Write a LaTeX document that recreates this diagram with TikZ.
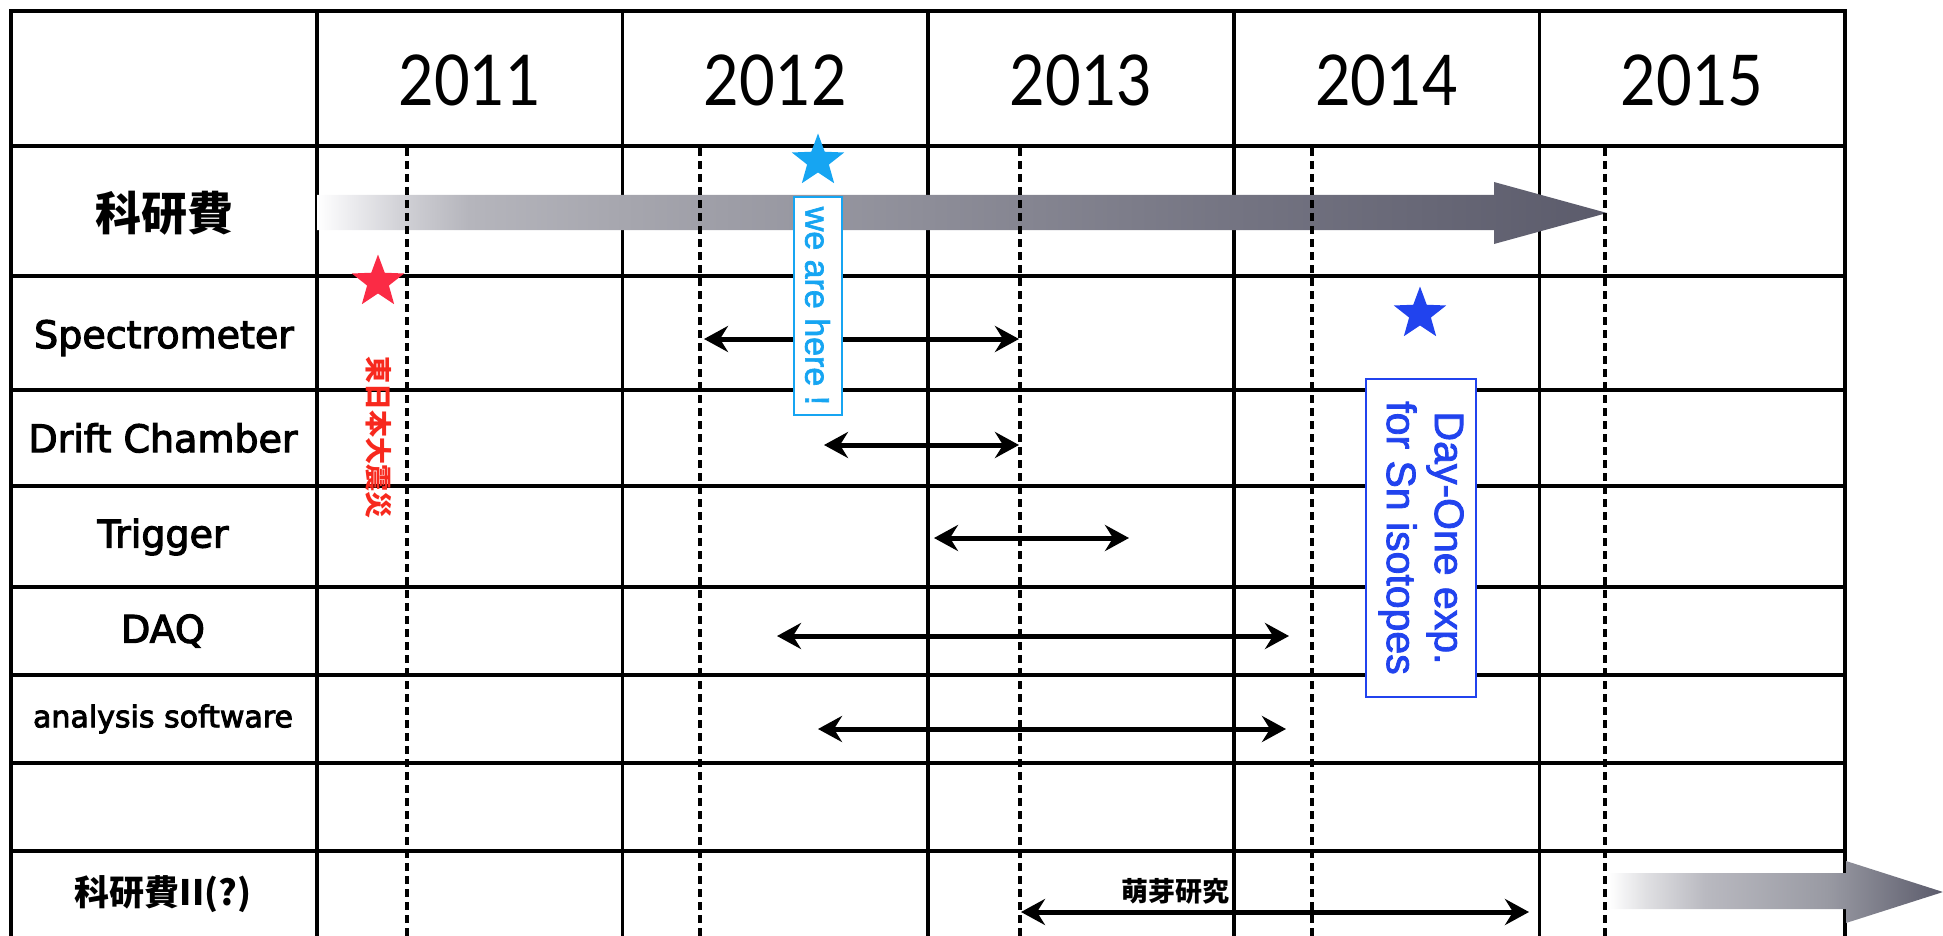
\documentclass[tikz,border=0pt]{standalone}
\usepackage{fontspec}
\usetikzlibrary{shapes.geometric,arrows.meta}
\newfontfamily\jp{Noto Sans CJK JP}
\newfontfamily\lbl[FakeBold=3]{DejaVu Sans}
\newfontfamily\helv[FakeBold=2]{Liberation Sans}
\newfontfamily\yr[FakeStretch=0.88]{Lato}
\definecolor{starred}{HTML}{FB2B45}
\definecolor{quakered}{HTML}{F7291E}
\definecolor{skyblue}{HTML}{16A5F2}
\definecolor{deepblue}{HTML}{2143EE}
\definecolor{ga}{HTML}{ECECEF}
\definecolor{gb}{HTML}{D2D2D7}
\definecolor{gc}{HTML}{B5B5BC}
\definecolor{gd}{HTML}{A6A6AE}
\definecolor{ge}{HTML}{8D8D98}
\definecolor{gf}{HTML}{747482}
\definecolor{gg}{HTML}{5B5B6B}
\definecolor{gh}{HTML}{E0E0E3}
\definecolor{gi}{HTML}{B9B9C0}
\definecolor{gj}{HTML}{999AA3}
\pgfdeclarehorizontalshading{kakenA}{100bp}{color(0bp)=(white); color(25bp)=(white); color(26.3bp)=(ga); color(28.2bp)=(gb); color(30.9bp)=(gc); color(36.9bp)=(gd); color(48.7bp)=(ge); color(60.6bp)=(gf); color(75bp)=(gg); color(100bp)=(gg)}
\pgfdeclarehorizontalshading{kakenB}{100bp}{color(0bp)=(white); color(25bp)=(white); color(30.4bp)=(gh); color(39.4bp)=(gi); color(57.6bp)=(gj); color(75bp)=(gg); color(100bp)=(gg)}
\begin{document}
\begin{tikzpicture}[x=1pt,y=-1pt,
  gridline/.style={line width=3.5pt, black, line cap=rect},
  yeardash/.style={line width=3.5pt, black, dash pattern=on 8pt off 5pt},
  span/.style={line width=5pt, black, {Stealth[length=24pt,width=26pt,inset=8pt]}-{Stealth[length=24pt,width=26pt,inset=8pt]}},
  yearlbl/.style={font=\yr\fontsize{70}{70}\selectfont},
  rowlbl/.style={font=\lbl\fontsize{38}{38}\selectfont},
  mark star/.style={star, star points=5, star point ratio=2.4, minimum size=55pt, inner sep=0pt, draw=none}]
\useasboundingbox (0,0) rectangle (1943,936);
\begin{scope}
\clip (0,0) rectangle (1943,936);
% grid
\foreach \y in {11,146,276,390,486,587,675,763,851}
  \draw[gridline] (11,\y) -- (1845,\y);
\foreach \x in {11,317,622.6,928.2,1233.8,1539.4,1845}
  \draw[gridline] (\x,11) -- (\x,945);
% shaded arrows
\shade[shading=kakenA] (317,195) -- (1494,195) -- (1494,182) -- (1607,213) -- (1494,244) -- (1494,230) -- (317,230) -- cycle;
\shade[shading=kakenB] (1609,873) -- (1846,873) -- (1846,861) -- (1943,892) -- (1846,923) -- (1846,909) -- (1609,909) -- cycle;
% dashed year marks
\foreach \x in {407,700,1020,1312,1605}
  \draw[yeardash] (\x,148) -- (\x,945);
\end{scope}
% years
\node[yearlbl] (y2011) at (469.8,80) {2011};
\node[yearlbl] (y2012) at (775.4,80) {2012};
\node[yearlbl] (y2013) at (1081,80) {2013};
\node[yearlbl] (y2014) at (1386.6,80) {2014};
\node[yearlbl] (y2015) at (1692.2,80) {2015};
% row labels
\node[font=\jp\bfseries\fontsize{46}{46}\selectfont] (kaken) at (164,213) {科研費};
\node[rowlbl] (spec) at (164,338) {Spectrometer};
\node[rowlbl] (drift) at (163,438) {Drift Chamber};
\node[rowlbl] (trig) at (163,537) {Trigger};
\node[rowlbl] (daq) at (163,631) {DAQ};
\node[font=\lbl\fontsize{30}{30}\selectfont] (ana) at (163,719) {analysis software};
\node[font=\jp\bfseries\fontsize{35}{35}\selectfont] (kaken2) at (163,894) {科研費II(?)};
% spans
\coordinate (s1a) at (704,339);  \coordinate (s1b) at (1019,339);
\coordinate (s2a) at (824,445);  \coordinate (s2b) at (1019,445);
\coordinate (s3a) at (934,538);  \coordinate (s3b) at (1129,538);
\coordinate (s4a) at (777,636);  \coordinate (s4b) at (1289,636);
\coordinate (s5a) at (818,729);  \coordinate (s5b) at (1286,729);
\coordinate (s6a) at (1021,912); \coordinate (s6b) at (1529,912);
\draw[span] (s1a) -- (s1b);
\draw[span] (s2a) -- (s2b);
\draw[span] (s3a) -- (s3b);
\draw[span] (s4a) -- (s4b);
\draw[span] (s5a) -- (s5b);
\draw[span] (s6a) -- (s6b);
\node[font=\jp\bfseries\fontsize{27}{27}\selectfont] (houga) at (1175,891) {萌芽研究};
% stars and notes
\node[mark star, fill=starred] (quakestar) at (378,282) {};
\node[rotate=-90, text=quakered, font=\jp\bfseries\fontsize{27}{27}\selectfont, inner sep=0pt] (quake) at (379,437) {東日本大震災};
\node[mark star, fill=skyblue] (herestar) at (818,161) {};
\node[rotate=-90, draw=skyblue, line width=2pt, fill=white, text=skyblue, font=\helv\fontsize{34}{34}\selectfont, minimum width=217pt, minimum height=48pt, inner sep=0pt] (here) at (817.5,306) {we are here !};
\node[mark star, fill=deepblue] (daystar) at (1420,314) {};
\node[rotate=-90, draw=deepblue, line width=2pt, fill=white, text=deepblue, font=\helv\fontsize{41}{48}\selectfont, align=center, minimum width=318pt, minimum height=110pt, inner sep=0pt] (dayone) at (1421,538) {Day-One exp.\\for Sn isotopes};
\end{tikzpicture}
\end{document}
